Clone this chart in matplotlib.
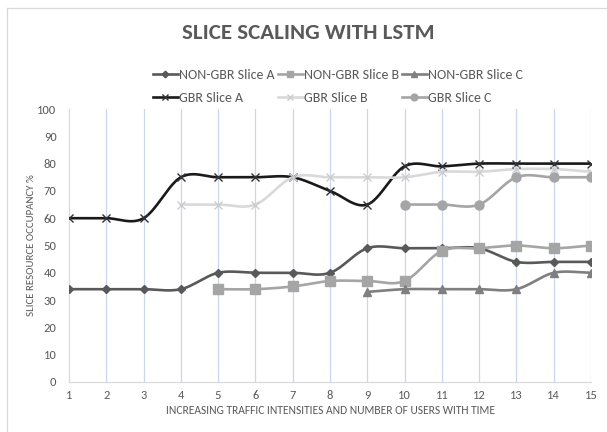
import numpy as np
import matplotlib
matplotlib.use("Agg")
import matplotlib.pyplot as plt
from matplotlib.lines import Line2D

# Time steps and slice occupancy (%) per series (None = slice not active)
steps = list(range(1, 16))
non_gbr_a = [34, 34, 34, 34, 40, 40, 40, 40, 49, 49, 49, 49, 44, 44, 44]
non_gbr_b = [None, None, None, None, 34, 34, 35, 37, 37, 37, 48, 49, 50, 49, 50]
non_gbr_c = [None, None, None, None, None, None, None, None, 33, 34, 34, 34, 34, 40, 40]
gbr_a = [60, 60, 60, 75, 75, 75, 75, 70, 65, 79, 79, 80, 80, 80, 80]
gbr_b = [None, None, None, 65, 65, 65, 75, 75, 75, 75, 77, 77, 78, 78, 77]
gbr_c = [None, None, None, None, None, None, None, None, None, 65, 65, 65, 75, 75, 75]

series_labels = ["NON-GBR Slice A", "NON-GBR Slice B", "NON-GBR Slice C",
                 "GBR Slice A", "GBR Slice B", "GBR Slice C"]
y_ticks = list(range(0, 101, 10))

plt.rcParams["font.family"] = ["Carlito", "DejaVu Sans"]
TXT = "#595959"
W, H = 607, 432


def smooth(xs, ys, n=24):
    """Catmull-Rom curve through the points (spreadsheet-style smoothed line)."""
    xs = np.asarray(xs, float)
    ys = np.asarray(ys, float)
    if len(xs) < 3:
        return xs, ys
    px = np.concatenate([[2 * xs[0] - xs[1]], xs, [2 * xs[-1] - xs[-2]]])
    py = np.concatenate([[2 * ys[0] - ys[1]], ys, [2 * ys[-1] - ys[-2]]])
    out_x, out_y = [], []
    t = np.linspace(0, 1, n, endpoint=False)[:, None]
    for i in range(1, len(px) - 2):
        p0, p1, p2, p3 = (np.array([px[j], py[j]]) for j in (i - 1, i, i + 1, i + 2))
        c1 = p1 + (p2 - p0) / 6.0
        c2 = p2 - (p3 - p1) / 6.0
        pts = ((1 - t) ** 3) * p1 + 3 * ((1 - t) ** 2) * t * c1 + \
            3 * (1 - t) * t ** 2 * c2 + t ** 3 * p2
        out_x.extend(pts[:, 0])
        out_y.extend(pts[:, 1])
    out_x.append(xs[-1])
    out_y.append(ys[-1])
    return np.array(out_x), np.array(out_y)


fig = plt.figure(figsize=(W / 100, H / 100), dpi=100)
ax = fig.add_axes([69 / W, 1 - 382 / H, (591 - 69) / W, (382 - 109) / H])

styles = [
    (non_gbr_a, dict(color="#595959", marker="D", ms=4.5, mfc="#595959", mec="#595959")),
    (non_gbr_b, dict(color="#a5a5a5", marker="s", ms=6.5, mfc="#a5a5a5", mec="#a5a5a5")),
    (non_gbr_c, dict(color="#7f7f7f", marker="^", ms=6, mfc="#7f7f7f", mec="#7f7f7f")),
    (gbr_a, dict(color="#1a1a1a", marker="x", ms=6, mfc="none", mec="#333333", mew=1.0)),
    (gbr_b, dict(color="#d9d9d9", marker="x", ms=6, mfc="none", mec="#cccccc", mew=1.0)),
    (gbr_c, dict(color="#a5a5a5", marker="o", ms=6.5, mfc="#a5a5a5", mec="#a5a5a5")),
]

handles = {}
for (vals, st), lab in zip(styles, series_labels):
    xs = [x for x, v in zip(steps, vals) if v is not None]
    ys = [v for v in vals if v is not None]
    sx, sy = smooth(xs, ys)
    ax.plot(sx, sy, color=st["color"], lw=1.9, solid_capstyle="round", zorder=3)
    ax.plot(xs, ys, ls="none", marker=st["marker"], ms=st["ms"], mfc=st["mfc"],
            mec=st["mec"], mew=st.get("mew", 1.0), zorder=4)
    handles[lab] = Line2D([0], [0], color=st["color"], lw=1.9, marker=st["marker"],
                          ms=st["ms"] * 0.75, mfc=st["mfc"], mec=st["mec"],
                          mew=st.get("mew", 1.0))

ax.set_xlim(1, 15)
ax.set_ylim(0, 100)
ax.set_xticks(steps)
ax.set_yticks(y_ticks)
for x in steps[1:]:
    ax.axvline(x, color="#c9d6ee", lw=0.9, zorder=1)
for s in ("top", "right"):
    ax.spines[s].set_visible(False)
for s in ("left", "bottom"):
    ax.spines[s].set_color("#d9d9d9")
    ax.spines[s].set_linewidth(0.9)
ax.tick_params(length=0, labelsize=9, colors=TXT, pad=6)
ax.tick_params(axis="y", pad=9)

ax.set_xlabel("INCREASING TRAFFIC INTENSITIES AND NUMBER OF USERS WITH TIME",
              fontsize=8.3, color=TXT)
ax.xaxis.set_label_coords((330 - 69) / 522, -(410 - 382) / 273)
ax.xaxis.label.set_va("center")
ax.set_ylabel("SLICE RESOURCE OCCUPANCY %", fontsize=7.8, color=TXT)
ax.yaxis.set_label_coords((32 - 69) / 522, 0.5)
ax.yaxis.label.set_va("center")

fig.text(308 / W, 1 - 33 / H, "SLICE SCALING WITH LSTM", ha="center", va="center",
         fontsize=16.5, fontweight="bold", color=TXT)

order = ["NON-GBR Slice A", "GBR Slice A", "NON-GBR Slice B", "GBR Slice B",
         "NON-GBR Slice C", "GBR Slice C"]
leg = fig.legend([handles[k] for k in order], order, ncol=3, frameon=False,
                 loc="upper left", bbox_to_anchor=(146 / W, 1 - 62 / H),
                 fontsize=10, handlelength=1.8, handletextpad=0.1,
                 columnspacing=0.2, labelspacing=0.82, borderpad=0)
for t in leg.get_texts():
    t.set_color(TXT)

# chart area border (left and top edges)
fig.add_artist(Line2D([7 / W, 7 / W], [0, 1 - 8 / H], color="#d9d9d9", lw=0.9,
                      transform=fig.transFigure))
fig.add_artist(Line2D([7 / W, 1], [1 - 8 / H, 1 - 8 / H], color="#d9d9d9", lw=0.9,
                      transform=fig.transFigure))

fig.savefig("out.png", dpi=100)
